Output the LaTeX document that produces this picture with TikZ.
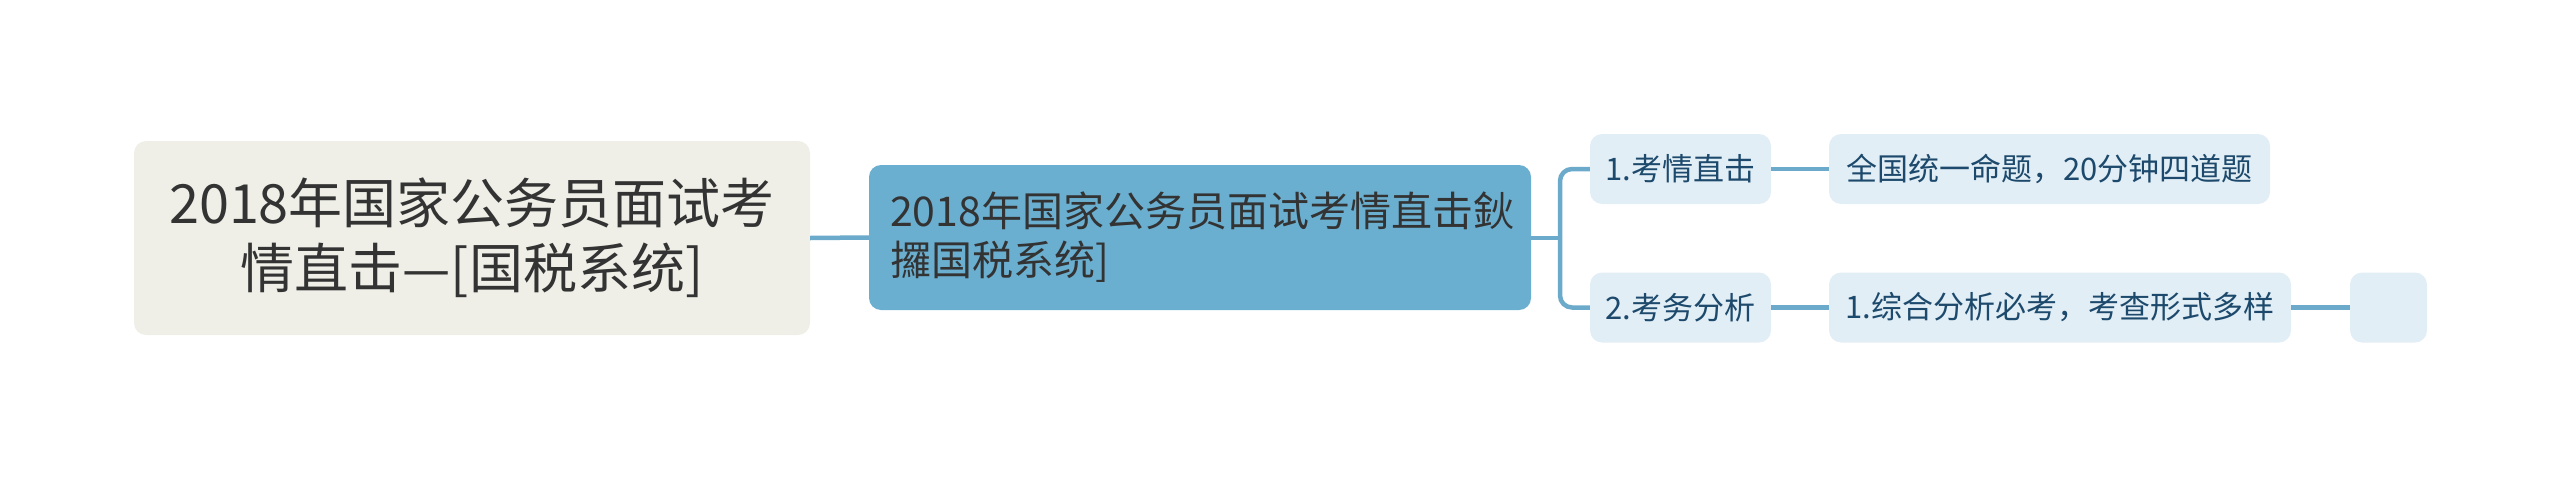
\documentclass[tikz,border=0pt]{standalone}
\usepackage{fontspec}
\setmainfont{Noto Sans CJK SC}
\definecolor{rootfill}{HTML}{EFEFE8}
\definecolor{mainfill}{HTML}{6BAFD0}
\definecolor{linec}{HTML}{6BAACB}
\definecolor{childfill}{HTML}{E2EEF6}
\definecolor{childtext}{HTML}{1D4A6C}
\definecolor{darktext}{HTML}{333333}
\tikzset{
  rootbox/.style={fill=rootfill, rounded corners=12pt, inner sep=0pt, minimum width=676pt, minimum height=194pt, text=darktext, align=center, font=\fontsize{54}{65}\selectfont},
  mainbox/.style={fill=mainfill, rounded corners=12pt, inner xsep=21pt, inner ysep=0pt, minimum width=662pt, minimum height=145pt, text=darktext, align=left, text width=620pt, font=\fontsize{41}{49}\selectfont},
  childbox/.style={fill=childfill, rounded corners=12pt, inner sep=0pt, minimum height=70pt, text=childtext, font=\fontsize{31}{38}\selectfont},
  conn/.style={draw=linec, line width=4.5pt}
}
\begin{document}
\begin{tikzpicture}[x=1pt,y=-1pt]
\useasboundingbox (0,0) rectangle (2560,477);
\node[rootbox] (root) at (472,238) {2018年国家公务员面试考\\情直击—[国税系统]};
\node[mainbox] (main) at (1200,237.5) {2018年国家公务员面试考情直击鈥\\攞国税系统]};
\node[childbox, minimum width=181pt] (c1) at (1680.5,169) {1.考情直击};
\node[childbox, minimum width=181pt] (c2) at (1680.5,307.5) {2.考务分析};
\node[childbox, minimum width=441pt] (g1) at (2049.5,169) {全国统一命题，20分钟四道题};
\node[childbox, minimum width=462pt] (g2) at (2060,307.5) {1.综合分析必考，考查形式多样};
\node[childbox, minimum width=77pt] (e1) at (2388.5,307.5) {};
\coordinate (sp) at (1560,238);
\begin{scope}[on background layer/.try]
\draw[conn] (root.east) -- (main.west);
\draw[conn] (main.east |- sp) -- (sp);
\draw[conn, rounded corners=12pt] (c1.west) -| (sp) |- (c2.west);
\draw[conn] (c1.east) -- (g1.west);
\draw[conn] (c2.east) -- (g2.west);
\draw[conn] (g2.east) -- (e1.west);
\end{scope}
\end{tikzpicture}
\end{document}
